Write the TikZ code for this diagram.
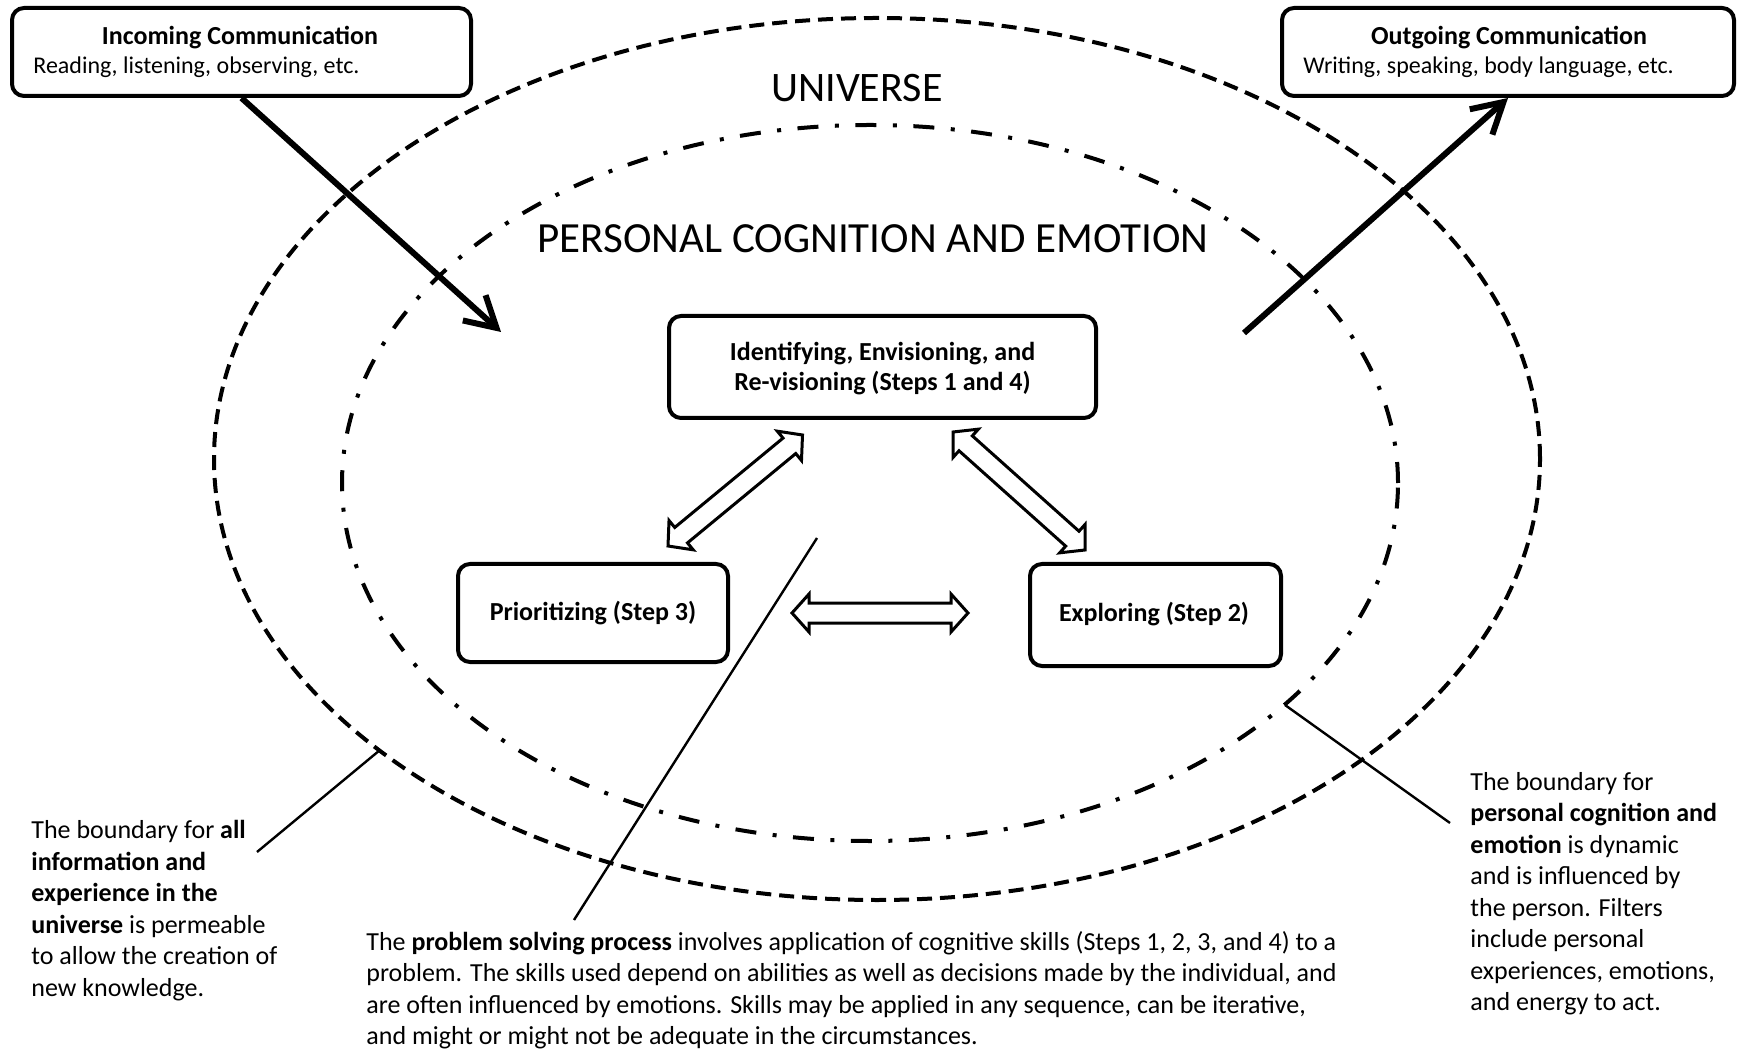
\documentclass[tikz,border=0pt]{standalone}
\usepackage{fontspec}
\setmainfont{Carlito}
\usetikzlibrary{arrows.meta,calc}
% hollow double-headed block arrow between two named coordinates
\newcommand{\dblblock}[2]{%
  \coordinate (#1h) at ($(#1)!8.5pt!(#2)$);
  \coordinate (#2h) at ($(#2)!8.5pt!(#1)$);
  \draw[hollow] (#1) -- ($(#1h)!9.5pt!90:(#2)$) -- ($(#1h)!5pt!90:(#2)$)
    -- ($(#2h)!5pt!-90:(#1)$) -- ($(#2h)!9.5pt!-90:(#1)$) -- (#2)
    -- ($(#2h)!9.5pt!90:(#1)$) -- ($(#2h)!5pt!90:(#1)$)
    -- ($(#1h)!5pt!-90:(#2)$) -- ($(#1h)!9.5pt!-90:(#2)$) -- cycle;}
\begin{document}
\begin{tikzpicture}[x=0.5pt,y=-0.5pt,
  box/.style={draw,line width=2pt,rounded corners=6pt,inner sep=0pt},
  boxhead/.style={font=\fontsize{13pt}{15.75pt}\selectfont\bfseries,inner sep=0pt},
  boxsub/.style={font=\fontsize{12pt}{14.5pt}\selectfont,inner sep=0pt},
  steptext/.style={font=\fontsize{13pt}{15pt}\selectfont\bfseries,inner sep=0pt,align=center},
  zonetitle/.style={font=\fontsize{21pt}{25pt}\selectfont,inner sep=0pt},
  para/.style={font=\fontsize{13pt}{15.75pt}\selectfont,inner sep=0pt,align=left,anchor=north west},
  universe/.style={line width=2pt,dash pattern=on 7.5pt off 4pt},
  personal/.style={line width=2pt,dash pattern=on 10.5pt off 8.25pt on 2pt off 8.25pt},
  bigarrow/.style={line width=3pt,-{Straight Barb[length=15pt,width=17pt]}},
  hollow/.style={line width=1.5pt,fill=white,line join=miter},
  callout/.style={line width=1.2pt}
]
\useasboundingbox (0,0) rectangle (1738,1052);

% boundaries
\draw[universe] (877,459) ellipse [x radius=331.5pt, y radius=220.5pt];
\draw[personal] (870,483) ellipse [x radius=264pt, y radius=179pt];

% titles
\node[zonetitle] (univ) at (857,88) {UNIVERSE};
\node[zonetitle,font=\fontsize{21.5pt}{25pt}\selectfont] (pers) at (873,239) {PERSONAL COGNITION AND EMOTION};

% communication boxes
\node[box,minimum width=229.5pt,minimum height=44pt] (inbox) at (241.5,52) {};
\node[boxhead,anchor=base] (intitle) at (240,45) {Incoming Communication};
\node[boxsub,anchor=base west] (insub) at (33,74) {Reading, listening, observing, etc.};

\node[box,minimum width=226pt,minimum height=44pt] (outbox) at (1508,52) {};
\node[boxhead,anchor=base] (outtitle) at (1509,45) {Outgoing Communication};
\node[boxsub,anchor=base west] (outsub) at (1303,74) {Writing, speaking, body language, etc.};

% step boxes
\node[box,minimum width=213.5pt,minimum height=51pt] (ident) at (882.5,367) {};
\node[steptext] (identtext) at (882.5,369) {Identifying, Envisioning, and\\Re-visioning (Steps 1 and 4)};
\node[box,minimum width=135pt,minimum height=49pt] (prior) at (593,613) {};
\node[steptext,anchor=base] (priortext) at (593,620) {Prioritizing (Step 3)};
\node[box,minimum width=125.5pt,minimum height=51pt] (explor) at (1155.5,615) {};
\node[steptext,anchor=base] (explortext) at (1154,621) {Exploring (Step 2)};

% communication arrows
\coordinate (inhead) at (501,332);
\coordinate (outtail) at (1244,333);
\draw[bigarrow] (inbox.south) -- (inhead);
\draw[bigarrow] (outtail) -- (outbox.south);

% hollow double arrows between steps
\coordinate (la1) at ($(prior.north)+(75,-16)$);
\coordinate (la2) at ($(ident.south)+(-80,15)$);
\coordinate (ra1) at ($(ident.south)+(70.5,12)$);
\coordinate (ra2) at ($(explor.north)+(-70.5,-12)$);
\coordinate (ha1) at ($(prior.east)+(62,0)$);
\coordinate (ha2) at (968,613);
\dblblock{la1}{la2}
\dblblock{ra1}{ra2}
\dblblock{ha1}{ha2}

% explanatory texts
\node[para] (lefttext) at (31,820) {The boundary for \textbf{all}\\\textbf{information and}\\\textbf{experience in the}\\\textbf{universe} is permeable\\to allow the creation of\\new knowledge.};
\node[para] (bottomtext) at (366,931) {The \textbf{problem solving process} involves application of cognitive skills (Steps 1, 2, 3, and 4) to a\\problem.  The skills used depend on abilities as well as decisions made by the individual, and\\are often influenced by emotions.  Skills may be applied in any sequence, can be iterative,\\and might or might not be adequate in the circumstances.};
\node[para] (righttext) at (1470,772) {The boundary for\\\textbf{personal cognition and}\\\textbf{emotion} is dynamic\\and is influenced by\\the person.  Filters\\include personal\\experiences, emotions,\\and energy to act.};

% callout lines
\coordinate (c1a) at (257,852);
\coordinate (c1b) at (380,750);
\coordinate (c2a) at (1450,823);
\coordinate (c2b) at (1285,705);
\coordinate (c3a) at (574,920);
\coordinate (c3b) at (817,538);
\draw[callout] (c1a) -- (c1b);
\draw[callout] (c2a) -- (c2b);
\draw[callout] (c3a) -- (c3b);
\end{tikzpicture}
\end{document}
